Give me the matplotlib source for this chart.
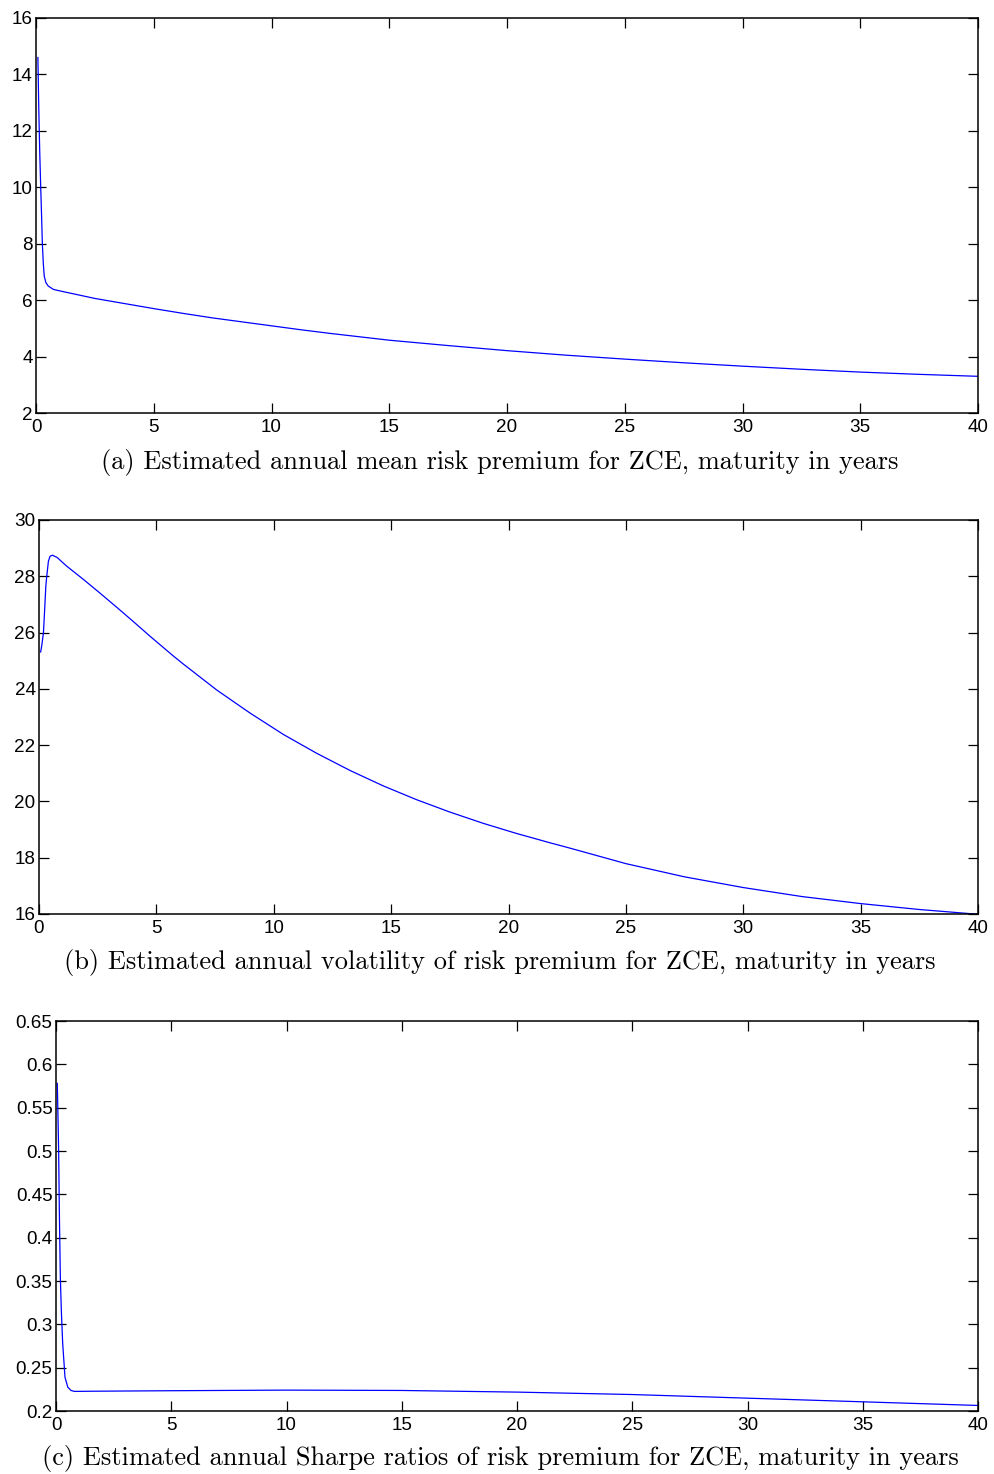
import matplotlib
matplotlib.use("Agg")
import matplotlib.pyplot as plt

# ---- data ----
maturity_a = [0.08, 0.12, 0.16, 0.20, 0.24, 0.27, 0.31, 0.35, 0.42, 0.52, 0.74, 1.0, 1.5, 2.5,
              3.75, 5, 6.25, 7.5, 8.75, 10, 11.25, 12.5, 13.75, 15, 17.5, 20, 22.5, 25, 27.5,
              30, 32.5, 35, 37.5, 40]
mean_premium = [14.6, 12.7, 11.2, 10.0, 8.9, 8.0, 7.3, 6.85, 6.62, 6.50, 6.38, 6.33, 6.24, 6.06,
                5.88, 5.70, 5.53, 5.37, 5.23, 5.09, 4.95, 4.82, 4.70, 4.58, 4.39, 4.21, 4.05, 3.91, 3.78,
                3.66, 3.55, 3.45, 3.37, 3.30]

maturity_b = [0.07, 0.12, 0.19, 0.24, 0.29, 0.33, 0.40, 0.47, 0.57, 0.77, 1.18, 1.89, 2.60, 3.31,
              4.02, 4.73, 5.72, 6.15, 7.57, 8.99, 10.41, 11.83, 13.25, 14.67, 16.09, 17.51, 18.93,
              20.35, 21.77, 22.62, 25.0, 27.5, 30.0, 32.5, 35.0, 37.5, 40]
vol_premium = [25.31, 25.55, 26.0, 26.8, 27.64, 28.0, 28.53, 28.71, 28.75, 28.67, 28.36, 27.89, 27.40, 26.90,
               26.39, 25.87, 25.17, 24.88, 23.96, 23.14, 22.38, 21.71, 21.10, 20.55, 20.06, 19.62, 19.22,
               18.86, 18.53, 18.34, 17.79, 17.32, 16.94, 16.62, 16.37, 16.16, 15.99]

maturity_c = [0.057, 0.115, 0.144, 0.188, 0.231, 0.29, 0.39, 0.51, 0.65, 0.8, 1.5, 5, 10, 15,
              20, 25, 30, 35, 40]
sharpe = [0.578, 0.50, 0.432, 0.355, 0.316, 0.278, 0.239, 0.2276, 0.2237, 0.2226, 0.2228, 0.2234, 0.2241, 0.2237,
          0.2218, 0.2190, 0.2148, 0.2106, 0.2064]

xticks = [0, 5, 10, 15, 20, 25, 30, 35, 40]
yticks_a = [2, 4, 6, 8, 10, 12, 14, 16]
yticks_b = [16, 18, 20, 22, 24, 26, 28, 30]
yticks_c = [0.2, 0.25, 0.3, 0.35, 0.4, 0.45, 0.5, 0.55, 0.6, 0.65]
yticklabels_c = ["0.2", "0.25", "0.3", "0.35", "0.4", "0.45", "0.5", "0.55", "0.6", "0.65"]

captions = [
    "(a) Estimated annual mean risk premium for ZCE, maturity in years",
    "(b) Estimated annual volatility of risk premium for ZCE, maturity in years",
    "(c) Estimated annual Sharpe ratios of risk premium for ZCE, maturity in years",
]

# ---- figure ----
W, H = 994, 1474
fig = plt.figure(figsize=(W / 100, H / 100), dpi=100)


def make_axes(left, right, top, bottom):
    return fig.add_axes([left / W, 1 - bottom / H, (right - left) / W, (bottom - top) / H])


ax_a = make_axes(36, 978, 18, 413)
ax_b = make_axes(39, 978, 520, 914)
ax_c = make_axes(56, 978, 1021, 1411)

tick_font = "Liberation Sans"
tick_size = 13.6

for ax in (ax_a, ax_b, ax_c):
    for s in ax.spines.values():
        s.set_linewidth(1.1)
    ax.tick_params(direction="in", top=True, right=True, length=7, width=0.9,
                   labelsize=tick_size)
    ax.tick_params(axis="x", pad=4.5)
    ax.tick_params(axis="y", pad=2.5)
    ax.set_xlim(0, 40)
    ax.set_xticks(xticks)
    ax.set_xticklabels([str(t) for t in xticks], family=tick_font)

ax_a.plot(maturity_a, mean_premium, color="#0000ff", lw=0.9)
ax_a.set_ylim(2, 16)
ax_a.set_yticks(yticks_a)
ax_a.set_yticklabels([str(t) for t in yticks_a], family=tick_font)

ax_b.plot(maturity_b, vol_premium, color="#0000ff", lw=0.9)
ax_b.set_ylim(16, 30)
ax_b.set_yticks(yticks_b)
ax_b.set_yticklabels([str(t) for t in yticks_b], family=tick_font)

ax_c.plot(maturity_c, sharpe, color="#0000ff", lw=0.9)
ax_c.set_ylim(0.2, 0.65)
ax_c.set_yticks(yticks_c)
ax_c.set_yticklabels(yticklabels_c, family=tick_font)

for cap, yc in zip(captions, [462, 962, 1458]):
    fig.text(500 / W, 1 - yc / H, cap, ha="center", va="center",
             family="cmr10", fontsize=19)

fig.savefig("out.png", dpi=100)
